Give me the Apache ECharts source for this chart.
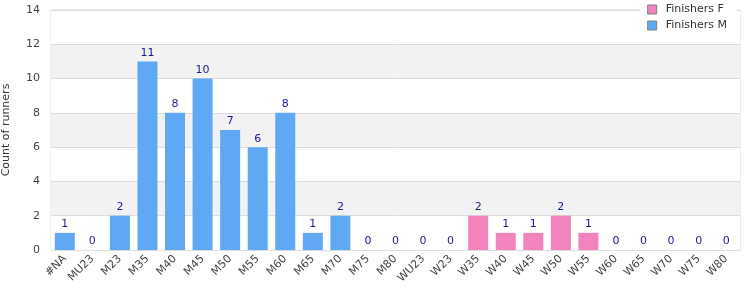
<!DOCTYPE html>
<html>
<head>
<meta charset="utf-8">
<script src="https://cdn.jsdelivr.net/npm/echarts@6/dist/echarts.min.js"></script>
<style>
    html, body { margin: 0; padding: 0; background: #fff; }
    #chart { width: 750px; height: 300px; }
</style>
</head>
<body>
<div id="chart"></div>
<script>
// age categories on the x axis
var categories = ['#NA', 'MU23', 'M23', 'M35', 'M40', 'M45', 'M50', 'M55', 'M60', 'M65', 'M70', 'M75', 'M80',
    'WU23', 'W23', 'W35', 'W40', 'W45', 'W50', 'W55', 'W60', 'W65', 'W70', 'W75', 'W80'];
// '-' = no bar for that series
var finishersM = [1, 0, 2, 11, 8, 10, 7, 6, 8, 1, 2, 0, 0,
    '-', '-', '-', '-', '-', '-', '-', '-', '-', '-', '-', '-'];
var finishersF = ['-', '-', '-', '-', '-', '-', '-', '-', '-', '-', '-', '-', '-',
    0, 0, 2, 1, 1, 2, 1, 0, 0, 0, 0, 0];
var yTicks = [0, 2, 4, 6, 8, 10, 12, 14];

var myChart = echarts.init(document.getElementById('chart'));

var labelStyle = {
    show: true,
    position: 'top',
    distance: 3,
    color: '#1a1a8c',
    fontSize: 11,
    fontFamily: 'DejaVu Sans'
};

var option = {
    animation: false,
    textStyle: { fontFamily: 'DejaVu Sans' },
    grid: {
        left: 51,
        right: 10,
        top: 10,
        bottom: 50,
        outerBoundsMode: 'none',
        containLabel: false,
        show: true,
        borderColor: '#dcdcdc',
        borderWidth: 1
    },
    legend: {
        data: ['Finishers F', 'Finishers M'],
        orient: 'vertical',
        right: 13,
        top: 0,
        padding: [4, 10, 2, 7],
        itemGap: 5,
        itemWidth: 9,
        itemHeight: 9,
        icon: 'rect',
        backgroundColor: '#fff',
        itemStyle: { borderColor: '#808080', borderWidth: 1 },
        textStyle: { color: '#333', fontSize: 11, fontFamily: 'DejaVu Sans', padding: [0, 0, 0, 4] }
    },
    xAxis: {
        type: 'category',
        data: categories,
        axisLine: { show: true, lineStyle: { color: '#dcdcdc' } },
        axisTick: { show: false },
        axisLabel: {
            interval: 0,
            rotate: 45,
            color: '#444',
            fontSize: 11,
            margin: 7
        }
    },
    yAxis: {
        type: 'value',
        min: 0,
        max: 14,
        interval: 2,
        name: 'Count of runners',
        nameLocation: 'middle',
        nameGap: 39,
        nameTextStyle: { color: '#333', fontSize: 11 },
        axisLine: { show: false },
        axisTick: { show: false },
        axisLabel: {
            color: '#444',
            fontSize: 11,
            margin: 11,
            formatter: function (v) { return yTicks.indexOf(v) >= 0 ? v : ''; }
        },
        splitLine: { show: true, lineStyle: { color: '#dcdcdc' } },
        splitArea: { show: true, areaStyle: { color: ['#ffffff', '#f2f2f2'] } }
    },
    series: [
        {
            name: 'Finishers M',
            type: 'bar',
            stack: 'all',
            barWidth: 20,
            data: finishersM,
            itemStyle: { color: '#5fa8f3' },
            label: labelStyle
        },
        {
            name: 'Finishers F',
            type: 'bar',
            stack: 'all',
            barWidth: 20,
            data: finishersF,
            itemStyle: { color: '#f283bc' },
            label: labelStyle
        }
    ]
};

myChart.setOption(option);
</script>
</body>
</html>
